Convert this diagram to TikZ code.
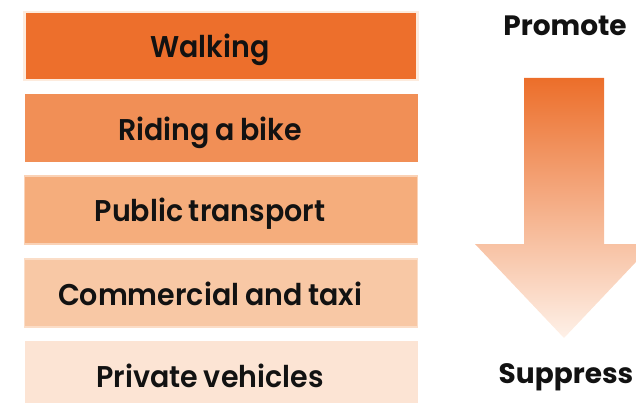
\documentclass[tikz,border=0pt]{standalone}
\usepackage{fontspec}
\setmainfont{Poppins}[UprightFont=* SemiBold, BoldFont=* Bold]
\newfontfamily\modefont{Poppins SemiBold}[FakeStretch=0.95, WordSpace=0.85]
\usepackage{tikz}

\definecolor{walkc}{HTML}{ED6F2C}
\definecolor{bikec}{HTML}{F18F56}
\definecolor{publicc}{HTML}{F5AD7C}
\definecolor{taxic}{HTML}{F8C8A5}
\definecolor{privc}{HTML}{FCE4D4}
\definecolor{rimc}{HTML}{FDEBDD}
\definecolor{arrowtop}{HTML}{EC6E2A}
\definecolor{arrowbot}{HTML}{FEF1E8}

\begin{document}
\begin{tikzpicture}[x=1pt,y=-1pt,
  mode/.style={rectangle,minimum width=393pt,minimum height=68pt,inner sep=0pt},
  modetext/.style={anchor=base,font=\modefont\fontsize{30}{32}\selectfont,text=black!93},
  endtext/.style={anchor=base,font=\bfseries\fontsize{28}{31}\selectfont,text=black!93}]
\useasboundingbox (0,0) rectangle (636,403);
\node [mode,fill=walkc,draw=rimc,line width=2.5pt] (walk) at (221,46) {};
\node [mode,fill=bikec] (bike) at (221,128) {};
\node [mode,fill=publicc,draw=rimc!60!publicc,line width=1.5pt] (public) at (221,210) {};
\node [mode,fill=taxic,draw=rimc!60!taxic,line width=1.5pt] (taxi) at (221,293) {};
\node [mode,fill=privc,minimum height=70pt] (private) at (221,376) {};
\node [modetext] at ([xshift=-11pt,yshift=-12pt]walk.center) {Walking};
\node [modetext] at ([xshift=-11pt,yshift=-13pt]bike.center) {Riding a bike};
\node [modetext] at ([xshift=-11pt,yshift=-12pt]public.center) {Public transport};
\node [modetext] at ([xshift=-11pt,yshift=-12pt]taxi.center) {Commercial and taxi};
\node [modetext] at ([xshift=-11pt,yshift=-11pt]private.center) {Private vehicles};
% arrow from promote to suppress
\node [endtext] (promote) at (565,36) {Promote};
\node [endtext] (suppress) at (566,383) {Suppress};
\shade [top color=arrowtop,bottom color=arrowbot]
  (524,78) -- (604,78) -- (604,244) -- (653,244) -- (564,338)
  -- (475,244) -- (524,244) -- cycle;
\end{tikzpicture}
\end{document}
